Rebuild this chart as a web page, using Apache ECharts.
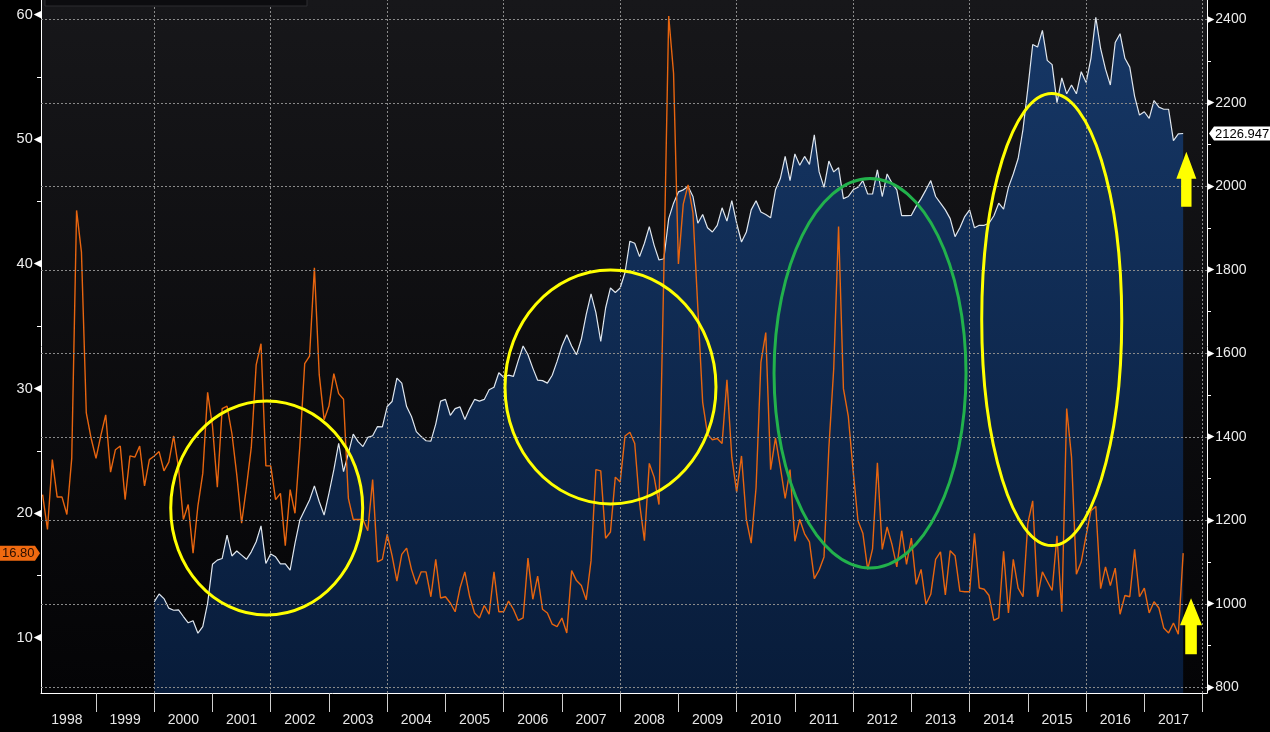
<!DOCTYPE html>
<html><head><meta charset="utf-8">
<script src="https://cdn.jsdelivr.net/npm/echarts@6/dist/echarts.min.js"></script>
<style>html,body{margin:0;padding:0;background:#000;}#c{width:1270px;height:732px;}</style>
</head><body><div id="c"></div><script>
// ---- data (monthly closes) ----
const vixStart = '1998-01';
const vixValues = [
 21.5,18.7,24.3,21.3,21.3,19.9,24.4,44.3,40.95,28.05,26.0,24.4,
 26.25,27.9,23.3,25.1,25.4,21.1,24.6,24.5,25.4,22.2,24.3,24.6,
 24.95,23.4,24.1,26.2,23.65,19.5,20.7,16.8,20.6,23.2,29.7,27.0,
 22.1,28.4,28.6,26.4,23.1,19.2,22.1,25.3,31.9,33.6,23.8,23.8,
 21.1,21.6,17.4,21.9,20.0,25.4,32.0,32.6,39.7,31.1,27.5,28.6,
 31.2,29.6,29.15,21.2,19.5,19.5,19.5,18.6,22.7,16.1,16.3,18.3,
 16.6,14.55,16.7,17.2,15.5,14.3,15.3,15.3,13.3,16.3,13.2,13.3,
 12.8,12.1,14.0,15.3,13.3,12.0,11.6,12.6,11.9,15.3,12.1,12.1,
 12.95,12.3,11.4,11.6,16.4,13.1,14.95,12.3,12.0,11.1,10.9,11.6,
 10.4,15.4,14.6,14.2,13.05,16.2,23.5,23.4,18.0,18.5,22.9,22.5,
 26.2,26.5,25.6,20.8,17.8,24.0,22.9,20.7,39.4,59.9,55.3,40.0,
 44.8,46.35,44.1,36.5,28.9,26.35,25.9,26.0,25.6,30.7,24.5,21.7,
 24.6,19.5,17.6,22.05,32.1,34.5,23.5,26.05,23.7,21.2,23.5,17.75,
 19.5,18.35,17.7,14.75,15.45,16.5,25.25,31.6,43.0,30.0,27.8,23.4,
 19.4,18.4,15.5,17.15,24.05,17.1,18.9,17.5,15.7,18.6,15.9,18.0,
 14.3,15.5,12.7,13.5,16.3,16.9,13.45,17.0,16.6,13.75,13.7,13.7,
 18.4,14.0,13.9,13.4,11.4,11.6,16.95,12.0,16.3,14.0,13.3,19.2,
 21.0,13.3,15.3,14.55,13.8,18.2,12.1,28.4,24.5,15.1,16.1,18.2,
 20.2,20.55,13.95,15.7,14.2,15.6,11.9,13.4,13.3,17.1,13.3,14.0,
 12.0,12.9,12.4,10.8,10.4,11.2,10.3,16.8
];
const indexStart = '1999-12';
const indexValues = [
 1005,
 1024,1013,990,985,986,970,955,960,930,946,1002,1095,
 1105,1109,1165,1115,1127,1117,1107,1125,1149,1187,1097,1120,
 1113,1096,1096,1081,1145,1201,1225,1249,1283,1245,1213,1265,
 1321,1385,1317,1361,1407,1389,1377,1399,1403,1425,1424,1473,
 1485,1541,1529,1473,1449,1413,1401,1391,1390,1431,1486,1490,
 1452,1468,1472,1442,1468,1490,1486,1490,1513,1519,1554,1543,
 1548,1545,1583,1618,1597,1565,1536,1535,1529,1548,1581,1618,
 1645,1618,1597,1634,1693,1743,1698,1629,1709,1757,1746,1757,
 1794,1869,1864,1832,1864,1904,1859,1824,1827,1923,1960,1987,
 1992,2000,1976,1912,1933,1901,1891,1907,1949,1917,1966,1912,
 1867,1891,1944,1966,1939,1933,1925,1992,2019,2072,2014,2078,
 2051,2072,2053,2124,2035,1998,2061,2035,2045,1971,1976,1992,
 1998,2014,1982,1982,2040,1976,2030,2008,1992,1930,1930,1931,
 1953,1971,1992,2014,1976,1960,1944,1923,1880,1901,1928,1944,
 1901,1907,1907,1912,1930,1960,1946,1998,2030,2067,2137,2235,
 2340,2334,2374,2302,2292,2201,2260,2222,2243,2222,2275,2249,
 2307,2405,2330,2281,2243,2345,2366,2307,2286,2216,2171,2179,
 2163,2206,2190,2185,2185,2110,2126,2126.947
];
const yearLabels = ['1998','1999','2000','2001','2002','2003','2004','2005','2006','2007',
  '2008','2009','2010','2011','2012','2013','2014','2015','2016','2017'];
const leftAxisTicks = [10,20,30,40,50,60];
const leftMinorTicks = [15,25,35,45,55];
const rightAxisTicks = [800,1000,1200,1400,1600,1800,2000,2200,2400];
const rightMinorTicks = [900,1100,1300,1500,1700,1900,2100,2300];
const verticalGridYears = [2000,2002,2004,2006,2008,2010,2012,2014,2016,2018];
const vixLastLabel = '16.80';
const indexLastLabel = '2126.947';

// ---- helpers ----
function monthEnd(start, i){ const p = start.split('-').map(Number); return p[0] + (p[1] + i) / 12; }
const vixData = vixValues.map((v,i)=>[monthEnd(vixStart,i), v]);
const indexData = indexValues.map((v,i)=>[monthEnd(indexStart,i), v]);
const yearStarts = yearLabels.map(y=>+y+1);
const yearMids = yearLabels.map(y=>+y+0.5);
const FONT = 'Liberation Sans, Arial, sans-serif';

const chart = echarts.init(document.getElementById('c'));
const option = {
  backgroundColor: '#000',
  animation: false,
  grid: {left:41, right:63, top:0, bottom:39, show:true, borderWidth:0,
    backgroundColor: new echarts.graphic.LinearGradient(0,0,0,1,[{offset:0,color:'#17171a'},{offset:1,color:'#040406'}])},
  xAxis: {type:'value', min:1998.0556, max:2018.076,
    axisLine:{show:true, onZero:false, lineStyle:{color:'#ffffff', width:1}},
    axisTick:{show:true, customValues: yearStarts, length:19, lineStyle:{color:'#cfcfcf', width:1}},
    axisLabel:{customValues: yearMids, formatter: v=>String(Math.floor(v)), color:'#e6e6e6', fontSize:14, fontFamily:FONT, margin:20},
    splitLine:{show:false}},
  yAxis: [
    {type:'value', position:'left', min:5.58, max:61.18,
      axisLine:{show:true, onZero:false, lineStyle:{color:'#ffffff', width:1}},
      axisTick:{show:true, customValues:leftMinorTicks, length:4, lineStyle:{color:'#ffffff'}},
      axisLabel:{customValues:leftAxisTicks, margin:0, formatter: v=>'{v|'+v+'}{t|◀}',
        rich:{v:{color:'#ededed', fontSize:14.5, fontFamily:FONT, padding:[0,1,0,0], verticalAlign:'middle'},
              t:{color:'#ffffff', fontSize:9.5, fontFamily:'DejaVu Sans', verticalAlign:'middle'}}},
      splitLine:{show:false}},
    {type:'value', position:'right', min:786.8, max:2446.7,
      axisLine:{show:true, onZero:false, lineStyle:{color:'#ffffff', width:1}},
      axisTick:{show:true, customValues:rightMinorTicks, length:4, lineStyle:{color:'#ffffff'}},
      axisLabel:{customValues:rightAxisTicks, margin:0, formatter: v=>'{t|▶}{v|'+v+'}',
        rich:{v:{color:'#ededed', fontSize:14, fontFamily:FONT, padding:[0,0,0,1], verticalAlign:'middle'},
              t:{color:'#ffffff', fontSize:9.5, fontFamily:'DejaVu Sans', verticalAlign:'middle'}}},
      splitLine:{show:false}}
  ],
  series: [
    {name:'area', type:'line', yAxisIndex:1, data:indexData, symbol:'none', silent:true, z:1,
      lineStyle:{width:0},
      areaStyle:{origin:'start', opacity:1, color:new echarts.graphic.LinearGradient(0,0,0,1,[{offset:0,color:'#163766'},{offset:1,color:'#081c3a'}])}},
    {name:'grid', type:'line', yAxisIndex:1, data:[], z:2, silent:true,
      markLine:{silent:true, symbol:'none', animation:false, label:{show:false},
        lineStyle:{type:[2,2], color:'#8a8a8a', width:1},
        data:[...verticalGridYears.map(v=>({xAxis:v})), ...rightAxisTicks.map(v=>({yAxis:v}))]}},
    {name:'index', type:'line', yAxisIndex:1, data:indexData, symbol:'none', z:3,
      lineStyle:{color:'#dfe6ee', width:1.2}},
    {name:'vix', type:'line', yAxisIndex:0, data:vixData, symbol:'none', z:4,
      lineStyle:{color:'#e8650f', width:1.4}}
  ]
};
chart.setOption(option);

// ---- annotations (positioned through the chart's scales) ----
const ellipses = [
  {x:2001.931, y:1229.9, rx:1.648, ry:256.3, color:'#ffff00'},
  {x:2007.834, y:1519.8, rx:1.811, ry:280.2, color:'#ffff00'},
  {x:2012.290, y:1552.6, rx:1.648, ry:466.3, color:'#22b24c'},
  {x:2015.410, y:1681.2, rx:1.202, ry:541.3, color:'#ffff00'}
];
const arrows = [
  {x:2017.721, y:2083.1, hw:10, hh:27, sw:5.2, len:55},
  {x:2017.802, y:1013.7, hw:11, hh:27, sw:5.8, len:56}
];
function px(x,y,yi){ return chart.convertToPixel({xAxisIndex:0, yAxisIndex:yi}, [x,y]); }
const g = [];
g.push({type:'rect', shape:{x:45, y:-1, width:262, height:7}, style:{fill:'#0c0c0f', stroke:'#2c2c30', lineWidth:1}, z:100});
ellipses.forEach(e=>{
  const c = px(e.x, e.y, 1), r1 = px(e.x+e.rx, e.y+e.ry, 1);
  g.push({type:'ellipse', shape:{cx:c[0], cy:c[1], rx:Math.abs(r1[0]-c[0]), ry:Math.abs(r1[1]-c[1])},
    style:{fill:'none', stroke:e.color, lineWidth:3}, z:100});
});
arrows.forEach(a=>{
  const t = px(a.x, a.y, 1);
  const pts = [[0,0],[a.hw,a.hh],[a.sw,a.hh],[a.sw,a.len],[-a.sw,a.len],[-a.sw,a.hh],[-a.hw,a.hh]].map(p=>[t[0]+p[0], t[1]+p[1]]);
  g.push({type:'polygon', shape:{points:pts}, style:{fill:'#ffff00'}, z:100});
});
// last value tags
const yl = px(2017, parseFloat(vixLastLabel), 0)[1];
g.push({type:'polygon', shape:{points:[[0,yl-7.5],[35,yl-7.5],[40,yl],[35,yl+7.5],[0,yl+7.5]]}, style:{fill:'#f06a10'}, z:100});
g.push({type:'text', x:2, y:yl+0.5, style:{text:vixLastLabel, fill:'#2a0e00', font:'13px '+FONT, textVerticalAlign:'middle'}, z:101});
const yr = px(2017, parseFloat(indexLastLabel), 1)[1];
g.push({type:'polygon', shape:{points:[[1209,yr],[1214,yr-7],[1270,yr-7],[1270,yr+7],[1214,yr+7]]}, style:{fill:'#ffffff'}, z:100});
g.push({type:'text', x:1215, y:yr+0.5, style:{text:indexLastLabel, fill:'#000000', font:'13px '+FONT, textVerticalAlign:'middle'}, z:101});
chart.setOption({graphic: g});
</script></body></html>
